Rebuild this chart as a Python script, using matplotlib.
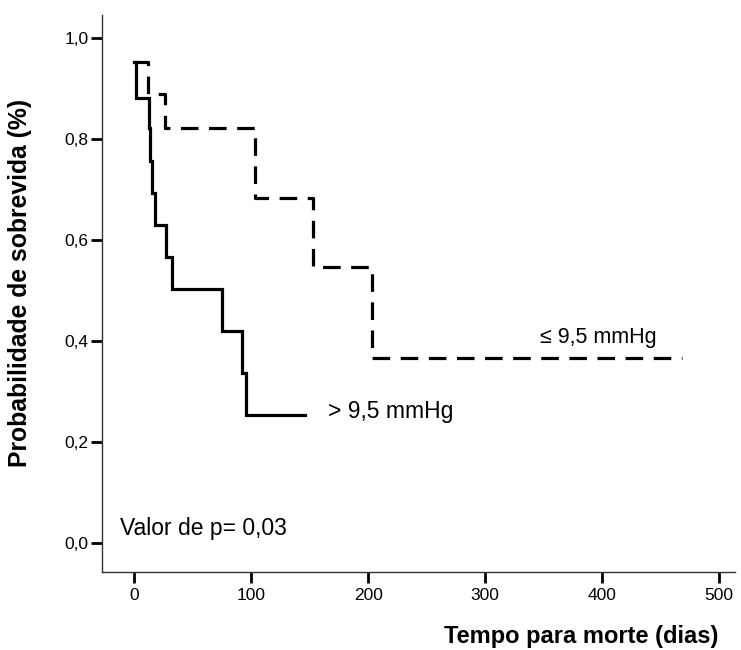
import matplotlib
matplotlib.use("Agg")
import matplotlib.pyplot as plt
from matplotlib.ticker import FuncFormatter

plt.rcParams['font.family'] = ['Liberation Sans', 'DejaVu Sans']

# Group > 9,5 mmHg (solid)
high_t = [0, 2, 13, 14, 15, 18, 27, 32, 75, 92, 96, 146]
high_s = [0.953, 0.882, 0.822, 0.757, 0.693, 0.630, 0.567, 0.504, 0.420, 0.337, 0.254, 0.254]

# Group <= 9,5 mmHg (dashed)
low_t = [0, 12, 26, 103, 153, 203, 468]
low_s = [0.953, 0.890, 0.822, 0.684, 0.547, 0.366, 0.366]

x_ticks = [0, 100, 200, 300, 400, 500]
y_ticks = [0.0, 0.2, 0.4, 0.6, 0.8, 1.0]

fig = plt.figure(figsize=(7.41, 6.5), dpi=100)
ax = fig.add_axes([0.1377, 0.1205, 0.8543, 0.8565])

ax.step(high_t, high_s, where='post', color='black', lw=2.3, solid_joinstyle='miter')
ax.step(low_t, low_s, where='post', color='black', lw=2.3, dashes=(5.5, 3.3))

ax.set_xlim(-27.4, 513.7)
ax.set_ylim(-0.057, 1.046)
ax.set_xticks(x_ticks)
ax.set_yticks(y_ticks)
ax.yaxis.set_major_formatter(FuncFormatter(lambda v, p: f"{v:.1f}".replace('.', ',')))
ax.tick_params(axis='both', direction='out', length=8, width=2, labelsize=12.5, color='black')
ax.tick_params(axis='x', pad=3.5)
ax.tick_params(axis='y', pad=1.5)

for s in ['top', 'right']:
    ax.spines[s].set_visible(False)
for s in ['left', 'bottom']:
    ax.spines[s].set_linewidth(1.0)
    ax.spines[s].set_color('#333333')

fig.text(0.969, 0.02, 'Tempo para morte (dias)', ha='right', va='center',
         fontsize=17, fontweight='bold')
fig.text(0.027, 0.565, 'Probabilidade de sobrevida (%)', ha='center', va='center',
         rotation=90, fontsize=17.8, fontweight='bold')

ax.text(-12, 0.028, 'Valor de p= 0,03', fontsize=16.5, ha='left', va='center')
ax.text(165.7, 0.26, '> 9,5 mmHg', fontsize=16.5, ha='left', va='center')
ax.text(346.7, 0.406, '≤ 9,5 mmHg', fontsize=15.5, ha='left', va='center')

fig.savefig('out.png', dpi=100)
